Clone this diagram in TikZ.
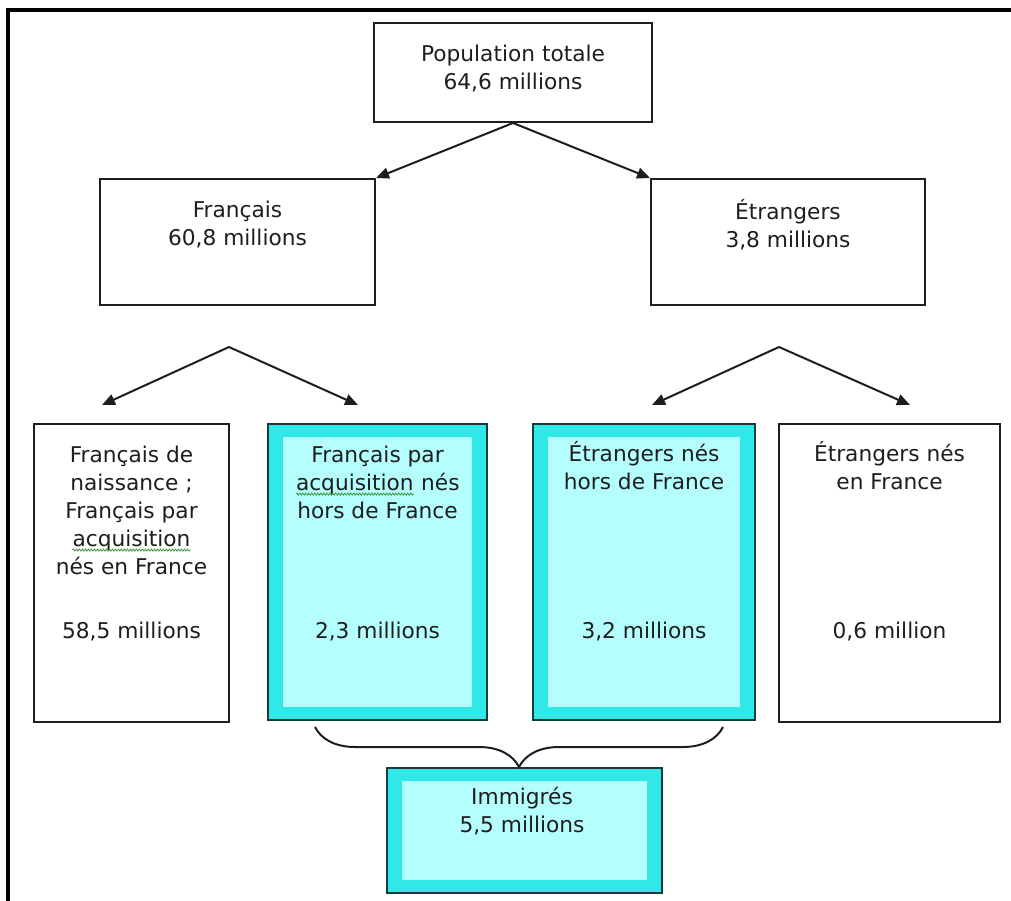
\documentclass[tikz,border=0pt]{standalone}
\usepackage{fontspec}
\setmainfont{DejaVu Sans}
\usetikzlibrary{arrows.meta,decorations.pathreplacing,decorations.pathmorphing}
\definecolor{ink}{HTML}{1E1E1E}
\definecolor{rim}{HTML}{143C3C}
\definecolor{band}{HTML}{30E8E8}
\definecolor{pale}{HTML}{B4FEFE}
\definecolor{squig}{HTML}{3C9A3C}
% green spell-check wave under a word
\newcommand{\spellchk}[1]{\tikz[baseline=(sw.base)]{\node[inner sep=0pt] (sw) {#1};
		\draw[squig,line width=0.8pt,decorate,decoration={snake,amplitude=1pt,segment length=3pt}]
		([yshift=-4pt]sw.base west)--([yshift=-4pt]sw.base east);}}

\begin{document}
\begin{tikzpicture}[x=1pt,y=-1pt,
			box/.style={draw=ink,line width=2pt,fill=white},
			cybox/.style={draw=rim,line width=2pt,fill=band,
				path picture={\fill[pale] ([shift={(15pt,-13pt)}]path picture bounding box.north west)
					rectangle ([shift={(-15pt,13pt)}]path picture bounding box.south east);}},
			txt/.style={align=center,inner sep=0pt,text=ink,font=\fontsize{21.7}{28}\selectfont},
			arr/.style={-{Triangle[length=13pt,width=11pt]},line width=2pt,ink},
			brc/.style={decorate,decoration={brace,mirror,amplitude=40pt},line width=2pt,ink}
			]
			\useasboundingbox (0,0) rectangle (1011,901);
			\draw[line width=3.5pt,black] (8,910) -- (8,10) -- (1020,10);
			% upper levels
			\node[box,minimum width=278pt,minimum height=99pt] (tot) at (513,72.5) {};
			\node[txt] (totl) at (513,69) {Population totale\\64,6 millions};
			\node[box,minimum width=275pt,minimum height=126pt] (fr) at (237.5,242) {};
			\node[txt] (frl) at (237.5,225) {Français\\60,8 millions};
			\node[box,minimum width=274pt,minimum height=126pt] (et) at (788,242) {};
			\node[txt] (etl) at (788,225) {Étrangers\\3,8 millions};
			\draw[arr] (tot.south)--(fr.north east);
			\draw[arr] (tot.south)--(et.north west);
			% lower level
			\node[box,minimum width=195pt,minimum height=298pt] (fn) at (131.5,573) {};
			\node[cybox,minimum width=219pt,minimum height=296pt] (fa) at (377.5,572) {};
			\node[cybox,minimum width=222pt,minimum height=296pt] (en) at (644,572) {};
			\node[box,minimum width=221pt,minimum height=298pt] (ef) at (889.5,573) {};
			\node[txt] (fnl) at (131.5,510) {Français de\\naissance ;\\Français par\\\spellchk{acquisition}\\nés en France};
			\node[txt] (fal) at (377.5,482) {Français par\\\spellchk{acquisition} nés\\hors de France};
			\node[txt] (enl) at (644,466) {Étrangers nés\\hors de France};
			\node[txt] (efl) at (889.5,466) {Étrangers nés\\en France};
			\node[txt,anchor=base] (fnn) at (131.5,638) {58,5 millions};
			\node[txt,anchor=base] (fan) at (377.5,638) {2,3 millions};
			\node[txt,anchor=base] (enn) at (644,638) {3,2 millions};
			\node[txt,anchor=base] (efn) at (889.5,638) {0,6 million};
			\coordinate (sf) at (229,347);
			\coordinate (se) at (779,347);
			\coordinate (tfn) at (102,405);
			\coordinate (tfa) at (358,405);
			\coordinate (ten) at (652,405);
			\coordinate (tef) at (910,405);
			\draw[arr] (sf)--(tfn);
			\draw[arr] (sf)--(tfa);
			\draw[arr] (se)--(ten);
			\draw[arr] (se)--(tef);
			% immigrants
			\node[cybox,minimum width=275pt,minimum height=125pt] (imm) at (524.5,830.5) {};
			\node[txt] (imml) at (522,811) {Immigrés\\5,5 millions};
			\coordinate (bl) at (315,727);
			\coordinate (br) at (723,727);
			\draw[brc] (bl)--(br);
		\end{tikzpicture}
\end{document}
